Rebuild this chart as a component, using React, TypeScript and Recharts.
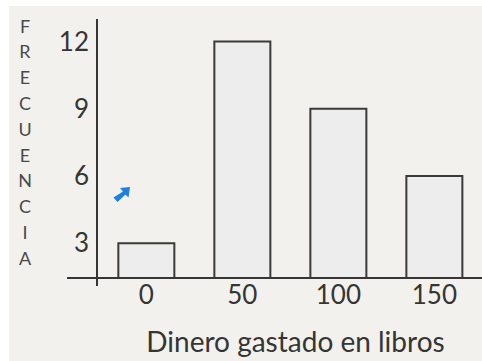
import { BarChart, Bar, XAxis, YAxis, ReferenceLine, Label } from 'recharts';

// Dinero gastado en libros (categorías del eje X) y su frecuencia
const dinero = [0, 50, 100, 150];
const frecuencia = [3, 12, 9, 6];
const xTicks = [0, 50, 100, 150];
const yTicks = [3, 6, 9, 12];
const yTitle = 'FRECUENCIA';
const xTitle = 'Dinero gastado en libros';

// Dominios (el eje Y no empieza en 0)
const X_DOMAIN: [number, number] = [-25.7, 174.8];
const Y_DOMAIN: [number, number] = [1.45, 13.0];
const X_LINE_START = -41.3;

const data = dinero.map((d, i) => ({ dinero: d, frecuencia: frecuencia[i] }));

const FONT = 'Lato, "Open Sans", sans-serif';
const INK = '#353535';

function VerticalTitle(props: any) {
	const { x, y } = props.viewBox;
	const cx = x + 25;
	return (
		<text x={cx} y={y + 13.5} textAnchor="middle" fontSize={18} fill="#4a4a4a" fontFamily={FONT}>
			{yTitle.split('').map((ch, i) => (
				<tspan key={i} x={cx} dy={i === 0 ? 0 : 25.8}>
					{ch}
				</tspan>
			))}
		</text>
	);
}

// Flechita azul (puntero del ratón que aparece en la imagen)
function Pointer() {
	return (
		<svg
			width={20}
			height={18}
			style={{ position: 'absolute', left: 112, top: 185 }}
			viewBox="0 0 20 18"
		>
			<path
				d="M18 2 L8 3 L11 6.5 L1.5 12.5 L5.5 17 L13.5 9.5 L16.5 12.5 Z"
				fill="#1f7fe0"
			/>
		</svg>
	);
}

export default function App() {
	return (
		<div style={{ position: 'absolute', left: 0, top: 0, width: 482, height: 361, background: '#fff' }}>
			<div
				style={{ position: 'absolute', left: 9, top: 6, width: 473, height: 355, background: '#f2f1ed' }}
			/>
			<div style={{ position: 'absolute', left: 0, top: 0 }}>
				<BarChart
					width={482}
					height={361}
					data={data}
					margin={{ top: 19, right: 0, left: 0, bottom: 0 }}
					style={{ fontFamily: FONT }}
				>
					<XAxis
						dataKey="dinero"
						type="number"
						domain={X_DOMAIN}
						ticks={xTicks}
						axisLine={false}
						tickLine={false}
						tickSize={0}
						tickMargin={0}
						height={75}
						tick={{ fontSize: 26, fill: INK, fontFamily: FONT }}
					>
						<Label
							value={xTitle}
							position="insideBottom"
							offset={9}
							dx={6}
							fontSize={28}
							fill={INK}
							fontFamily={FONT}
						/>
					</XAxis>
					<YAxis
						type="number"
						domain={Y_DOMAIN}
						ticks={yTicks}
						width={97}
						padding={{ bottom: 8 }}
						axisLine={{ stroke: INK, strokeWidth: 2 }}
						tickLine={false}
						tick={{ fontSize: 26, fill: INK, fontFamily: FONT }}
						label={<VerticalTitle />}
					/>
					<Bar
						dataKey="frecuencia"
						barSize={56}
						fill="#ededed"
						stroke="#3a3a3a"
						strokeWidth={2}
						isAnimationActive={false}
					/>
					<ReferenceLine
						segment={[
							{ x: X_LINE_START, y: Y_DOMAIN[0] },
							{ x: X_DOMAIN[1], y: Y_DOMAIN[0] },
						]}
						ifOverflow="visible"
						stroke={INK}
						strokeWidth={2}
					/>
				</BarChart>
			</div>
			<Pointer />
		</div>
	);
}
